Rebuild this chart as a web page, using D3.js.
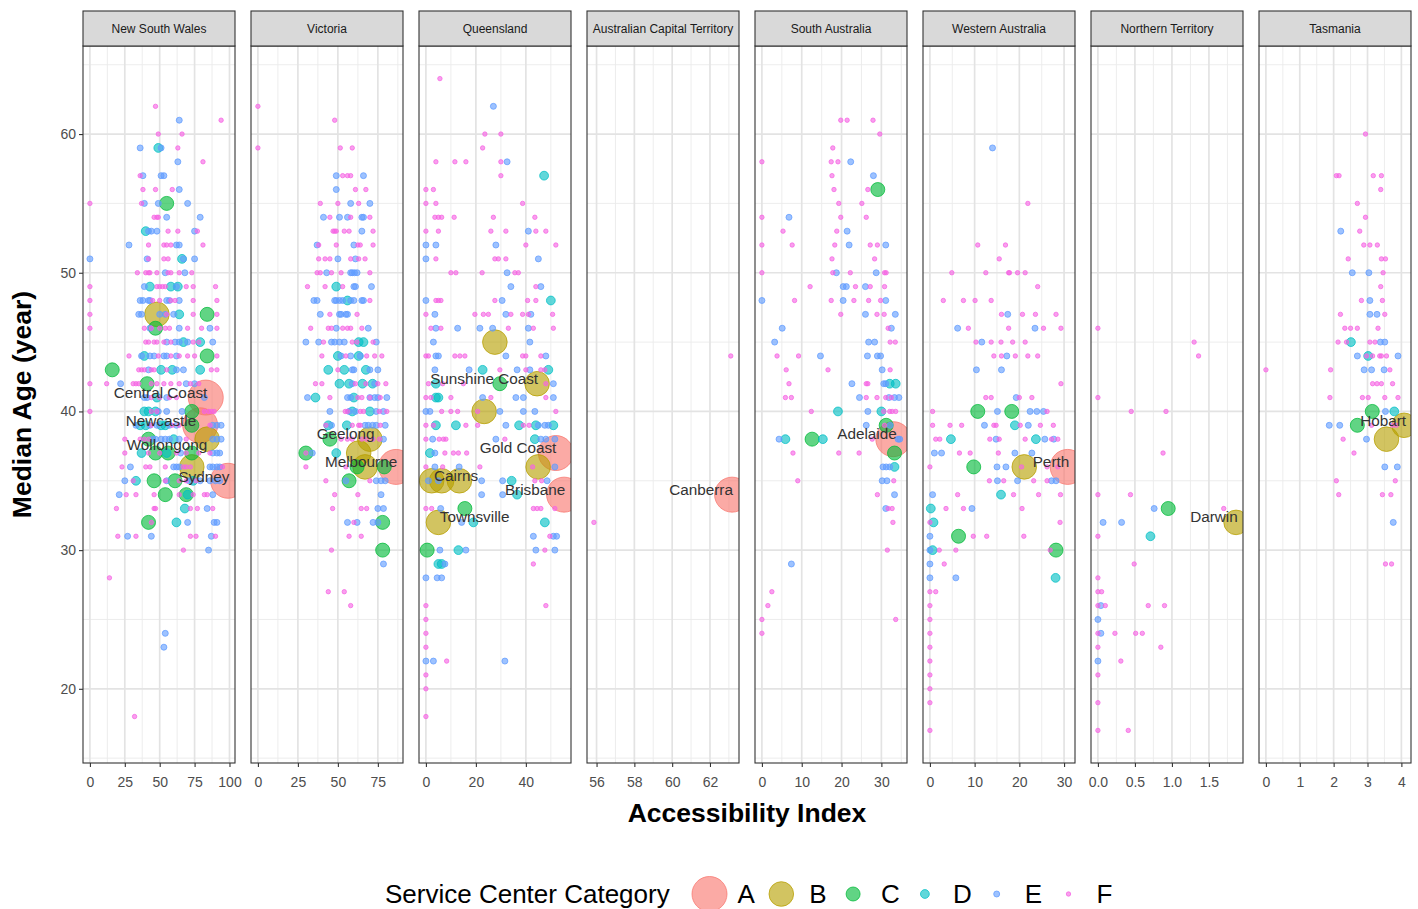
<!DOCTYPE html>
<html><head><meta charset="utf-8">
<script src="https://cdn.jsdelivr.net/npm/d3@7"></script>
<style>body{margin:0;background:#fff;} text{font-family:"Liberation Sans",Arial,Helvetica,sans-serif;}</style>
</head><body><svg id="chart" width="1418" height="909"></svg>
<script>
// ---------- facets, scales, ticks ----------
const states = ["New South Wales","Victoria","Queensland","Australian Capital Territory","South Australia","Western Australia","Northern Territory","Tasmania"];
const xRanges = [[0,99],[0,86.4],[0,55.3],[55.86,63.17],[0,34.7],[0,30.9],[0,1.867],[0,4.08]];
const xTicks = [[0,25,50,75,100],[0,25,50,75],[0,20,40],[56,58,60,62],[0,10,20,30],[0,10,20,30],[0,0.5,1,1.5],[0,1,2,3,4]];
const xTickFormats = ["d","d","d","d","d","d",".1f","d"];
const yRange = [17,64];
const yTicks = [20,30,40,50,60];
const categories = ["A","B","C","D","E","F"];
const catColors = ["#F8766D","#B79F00","#00BA38","#00BFC4","#619CFF","#F564E3"];

// ---------- data: rows are [median age, accessibility index values...] ----------
const nswA = [[41,83],[39,79],[35,99]];
const nswB = [[47,48],[38,84],[36,73]];
const nswC = [[55,55],[47,84],[46,47],[44,84],[43,16],[42,41],[40,73],[39,73],[38,42],[37,47,56,73],[35,46,61],[34,54,69],[32,42]];
const nswD = [[59,49],[53,40],[51,66],[49,43,58,63],[47,64],[45,67,79],[44,39],[43,51,59,79],[41,48],[40,39,42,47],[39,36,40,51,54],[38,60],[37,37,55],[35,33,74],[34,70],[33,68],[32,62]];
const nswE = [[61,64],[59,36,51],[58,63],[57,38,51,53],[56,64],[55,39,49,70],[54,55,79],[53,42,44,48,75],[52,28,62,64],[51,0,41,67,75],[50,54,68],[49,39,62],[48,36,38,42,43,55,57,64],[47,35,37,50,54,60],[46,43,64,86],[45,55,61,64,70,88],[44,37,43,46,53,55,62],[43,42,62,67],[42,22,69,75],[41,39,41,55,82],[40,49,55,66],[39,33,43,48,57,62,88,91,94],[38,45,47,51,54,57,64,88,91,94],[37,65,88,91,93],[36,29,60,62,64,86,88,91,93],[35,25,55,71,79,86,90,93],[34,21,88],[33,84],[32,70,89,91],[31,27,44,87],[30,85],[24,54],[23,53]];
const nswF = [[62,47],[61,94],[60,49,66],[59,63],[58,81],[57,36],[56,38,47,59],[55,0,37],[54,46,48,49],[53,56,63,77],[52,42,53,55,58,81],[51,42,53,56],[50,34,40,42,43,48,56,58,64,73],[49,0,48,50,52,54,69,74,90],[48,0,45,50,58,61,74,91],[47,0,55,74,91],[46,0,39,44,50,54,57,70,80,91],[45,40,42,46,48,53,58,74,78],[44,28,49,58,64,70,75,91],[43,35,37,39,44,46,55,87,91],[42,0,12,31,33,35,44,48,53,58,64,72,78],[41,44,50,57,62],[40,0,44,48,82,85,87,89],[39,44,59,64,86],[38,25,36,39,42,69],[37,25,42,50,62,69,78,86],[36,23,40,43,54,67,69,72,95],[35,31,54,64,69,76],[34,26,33,46,64,74,82,84],[33,19,46,47,72,77,88],[32,44],[31,20,33,72,76,90],[30,67],[28,14],[18,32]];

const vicA = [[36,86.4]];
const vicB = [[38,70],[37,63],[36,67]];
const vicC = [[38,45],[37,30],[36,62,79],[35,57],[32,78],[30,78]];
const vicD = [[49,49],[48,56],[45,63,66],[44,50,63],[43,44,54,67.5],[42,51,57,65.4,71.7],[41,36,60],[40,59,70],[39,44,55.6],[37,49]];
const vicE = [[57,49,66],[56,49],[55,58,70],[54,41,51,56,65,66],[53,65],[52,37,60],[51,50,61],[50,43,58,59,60.4,62],[49,60,61,71],[48,35,37,48,49,51,53,58,60,65,66],[47,39,51,52,55,56],[46,49,69],[45,30,38,46,48,51,54,74],[44,52,58,64],[43,59,60,70,75],[42,59,73],[41,31,56,58,70,73,75,80.6],[40,45,57,61,74,78.5],[39,46,67,69,71.7,74,79.6],[38,78.5],[37,34],[35,55,74,77,79.6],[34,77],[33,75,78.5],[32,56,62,72,75],[29,78.5]];
const vicF = [[62,0],[61,48],[59,0,51.5,59],[57,53,56,58],[56,61,67.5],[55,39,50,63],[54,45,58,70],[53,47,48,49,54,57,72],[52,38,49,62.5,64,72],[51,38,42,45,58,63,67],[50,37,39,46,52,70],[49,31,42,53],[48,70],[47,45,62],[46,33,44,46,53,56,58,65],[45,41,59,62,72],[44,40,55,68,73,77.5],[43,50],[42,36,40,61,67.5,75,80],[41,45,62.5,65,70,76.5],[40,54.6,56,64,66,76,80.6],[39,42.5,59,63,64,76.5],[38,52,56,59,65,68,72,76],[37,30],[36,30,55],[35,42.5,70],[34,48,62.5],[33,46.7,64.6,68],[32,60],[31,57,64.6],[30,46],[27,44,54],[26,58]];

const qldA = [[37,52],[34,55.3]];
const qldB = [[45,27.6],[42,44.5],[40,23.3],[36,44.9],[35,2.3,6.3,13.4],[32,5]];
const qldC = [[42,29.6],[33,15.6],[30,0.5]];
const qldD = [[57,47.3],[48,50],[43,22.7,49],[42,4],[41,4,5],[39,4,12,37.3,44,51],[38,43.6],[37,1.6],[35,34.3],[34,36.5],[32,19,47.6],[30,13],[29,5,6.3]];
const qldE = [[62,27],[58,32.5],[53,41],[52,0,4,28],[51,0,45],[50,32.5],[49,34,46],[48,0,30.5],[47,3.6,32,42],[46,4,12.7,21.6,26.7,41],[45,3,41.6],[44,4,5,32,48],[43,3.6,17.3,36.5,41.6],[42,51],[41,22.7,36,39,51],[40,0,1.6,29.6,39,43.6],[39,32,45,47.6,49],[38,2.7,28,46,48,51.6],[37,3.6],[36,3.6,13.3,51.6],[35,1,5,22.3,30.7,48.5],[34,22.3,30.7],[33,5.9],[32,14.3],[31,43,51,52.3],[30,5.6,16,44,51.6],[29,7.6],[28,0,4.5,6.3],[22,0,3,31.6]];
const qldF = [[64,5.6],[60,23.6,30],[59,22.7],[58,4,11.6,16,30],[57,30],[56,0,3],[55,0,4,38.7],[54,3.6,5,6.3,11.3,27,43.6],[53,0,5,26,32,44,48],[52,40,52],[51,4,27.6,29,32],[50,10,12,22.5,35.6,37],[49,44],[48,4,5,6,27.6,40.7,44],[47,0,19.6,23,25,34,38.7,41,50.7],[46,2,6,33,43,51],[44,0,1,11.6,13.6,15.6,38.7,40,46],[43,29.6,40,46,47.6],[42,1,6.7,15,48],[41,0,2,10,26,48],[40,6.3,10,12.7,20.7,52],[39,0,3,16,20.7,39,41.3],[38,0,5.3,7,8,31.6],[37,7.6,11,13,16.3],[36,0,6.7,21.6,42.7],[35,43.6,46.3],[33,0,2.3,43,44.5,46,51.6],[31,49.6],[30,47.6],[29,43],[26,0,48],[25,0],[24,0],[23,0],[22,8.3],[21,0],[20,0],[18,0]];

const actA = [[34,63.17]];
const actF = [[44,63.1],[32,55.86]];

const saA = [[38,33]];
const saC = [[56,29.1],[39,31.2],[38,12.6],[37,33.3]];
const saD = [[42,32.1,33.6],[40,19.1,30],[38,5.9,15.3],[36,33.3]];
const saE = [[58,22.3],[57,28],[54,6.8],[53,21.4],[52,21.9,31.1],[50,18.7,28.7],[49,20.4,21.2,26],[48,0,20.4,31.1],[47,26,33.5],[46,5.1,32.5],[45,3.2,26.8,28.3],[44,14.7,26.5,29,29.8],[43,30.2],[42,22.6,30.6,31.1],[41,24.5,31.9,33.3,34.4],[40,26.6],[39,26.2,32.2],[38,4.3,34.2,34.6],[36,30.4,31.2,32.1],[35,30.2,31.4],[34,33.3],[33,31.1],[29,7.4]];
const saF = [[61,19.8,21.4,27.9],[60,29.6],[59,17.8],[58,0,17.4,19.1],[57,17.6],[56,18.1,26.6],[55,19.3,25.1],[54,0,19.8,26.2],[53,5.3,18.8],[52,0,7.6,18.3,27.2,29],[51,17.6,28.3],[50,0,17.8,22.2,30.8,31.2],[49,12.1,23.5,27.2,30.8],[48,8.2,17.4,23.1,26.8,29.8],[47,19.8,28.9,30.7],[46,31.7],[45,32.2,33.5],[44,3.8,9.2],[43,6.1,16.6,32.2],[42,6.8,26.2,26.6],[41,5.9,7.4,26.2,28.9,31.1,32.5],[40,12.4,30.6,32.1,32.7,33.6],[39,30.8],[38,27.7],[37,7.8,19.3,24.4],[35,9,33.1],[34,29],[33,31.7,32.7],[32,32.9],[30,31.5],[27,2.5],[26,1.5],[25,0,33.6],[24,0]];

const waA = [[36,30.8]];
const waB = [[36,21.1]];
const waC = [[40,10.7,18.3],[36,9.8],[31,6.4],[30,28.2]];
const waD = [[39,19],[38,4.7,23.7],[34,15.9],[33,0.2],[32,0.8],[30,0.6],[28,28.1]];
const waE = [[59,14],[47,17.4],[46,6.2,23.5],[45,11.6],[44,17.2],[43,10.4,16],[41,19.3],[40,15.1,22.4,23.9,25.4],[39,12.2,22],[38,14.8,25.7,27.7],[37,1,2.6,19,22.8],[36,15,17],[35,15.1,19.6,27.2,28.2],[34,0.6],[33,9.4],[31,0],[30,0],[29,0],[28,0,5.8]];
const waF = [[55,21.9],[52,10.7,16.9],[51,15.5],[50,4.9,12.5,17.6,17.8,19.6,21.3],[49,24.1],[48,3,7.5,10.1,13.7],[47,16,20.7,23.6,28.2],[46,8.6,17.6,25.4,29.3],[45,10.3,13.7,15.9,18.5,21.3],[44,14.3,16,19.1,21.9,24.1],[42,29.3],[41,12.5,13.7,20,22.8],[40,0.6,26.2],[39,0.6,4.5,7.1,14.3,14.8,20.2,24.7,27.6],[38,1.3,2.2,13.4,15.5,21.3,27.2,28.6],[37,6.6,9,15.3],[36,0,20.5,26.2,28.6],[35,13.3,16.5,23.2,26.2],[34,6.2,18.7,24.3,29.2],[33,3.6,7.5,20.6],[32,0,29.1],[31,9.7,12.7,21],[30,2.1,5.8,26.9],[29,3.2],[27,0,1.3],[26,0],[25,0],[24,0],[23,0],[22,0],[21,0],[20,0],[19,0],[17,0]];

const ntB = [[32,1.867]];
const ntC = [[33,0.95]];
const ntD = [[31,0.71]];
const ntE = [[33,0.76],[32,0.07,0.32],[26,0.04],[25,0],[24,0.04],[22,0]];
const ntF = [[46,0],[45,1.3],[44,1.36],[41,0],[40,0.45,0.92],[37,0.88],[34,0,0.44],[33,1.7],[31,0],[29,0.49],[28,0],[27,0,0.05],[26,0,0.1,0.68,0.9],[24,0,0.23,0.51,0.6],[23,0,0.85],[22,0.31],[21,0],[19,0],[17,0,0.41]];

const tasB = [[39,4.08],[38,3.56]];
const tasC = [[40,3.14],[39,2.7]];
const tasD = [[45,2.51],[44,3.02],[40,3.79]];
const tasE = [[53,2.21],[50,2.55,3.04],[48,3.07],[47,3.07,3.28],[45,3.38,3.51],[44,2.7,3.9],[43,2.9,3.12,3.49],[40,3.53],[39,1.87,2.18],[38,2.97],[36,3.51,3.88],[32,3.76]];
const tasF = [[60,2.94],[57,2.08,2.16,3.17,3.41],[56,3.39],[55,2.7],[54,2.94],[53,2.77],[52,2.89,3.07,3.29],[51,2.43,3.41,3.53],[50,3.46],[49,3.39],[48,2.82,3.44],[47,2.2,3.51],[46,2.33,2.5,2.7,3.31],[45,2.13,2.38,3.07,3.22],[44,2.97,3.15,3.36,3.41,3.56],[43,0,1.91,3.66],[42,3.15,3.28,3.41,3.74],[41,1.89,2.85,3.02,3.51,3.9],[39,3.12,3.74,3.85],[38,2.28],[37,2.6],[35,2.08,3.82],[34,2.15,3.44,3.69],[29,3.53,3.71]];

// city labels (facet index, label centre in data units)
const cityNames = ["Central Coast","Newcastle","Wollongong","Sydney","Geelong","Melbourne","Sunshine Coast","Gold Coast","Cairns","Brisbane","Townsville","Canberra","Adelaide","Perth","Darwin","Hobart"];
const cityFacet = [0,0,0,0,1,1,2,2,2,2,2,3,4,5,6,7];
const cityX = [50.6,50.9,55.2,81.7,54.8,64.5,23.3,36.9,12.1,43.7,19.5,61.53,26.4,27.07,1.568,3.46];
const cityY = [41.37,39.35,37.62,35.32,38.41,36.4,42.38,37.4,35.39,34.38,32.43,34.38,38.41,36.4,32.43,39.35];

const facetData = [
  [nswA,nswB,nswC,nswD,nswE,nswF],
  [vicA,vicB,vicC,vicD,vicE,vicF],
  [qldA,qldB,qldC,qldD,qldE,qldF],
  [actA,[],[],[],[],actF],
  [saA,[],saC,saD,saE,saF],
  [waA,waB,waC,waD,waE,waF],
  [[],ntB,ntC,ntD,ntE,ntF],
  [[],tasB,tasC,tasD,tasE,tasF]
];

// ---------- layout ----------
const W = 1418, H = 909;
const panelLeft0 = 83, panelW = 152, panelGap = 16, panelTop = 46, panelBottom = 763, stripTop = 11;
const sizeRadius = [17.5, 12.3, 7, 4.4, 3.0, 2.2];

const svg = d3.select("#chart");
const defs = svg.append("defs");
svg.append("rect").attr("width",W).attr("height",H).attr("fill","#fff");

function pad([a,b]){ const e=(b-a)*0.05; return [a-e,b+e]; }
function minors(ticks, dom){
  const step = ticks.length>1 ? ticks[1]-ticks[0] : 1, out=[];
  for(let k=-1;k<ticks.length+1;k++){ const v = ticks[0]+(k+0.5)*step; if(v>=dom[0] && v<=dom[1]) out.push(v); }
  return out;
}
function expand(rows){ const p=[]; rows.forEach(r=>{ for(let k=1;k<r.length;k++) p.push([r[k],r[0]]); }); return p; }

const yDom = pad(yRange);
const y = d3.scaleLinear().domain(yDom).range([panelBottom, panelTop]);
const yMinor = minors(yTicks, yDom);
const color = d3.scaleOrdinal(categories, catColors);
const radius = d3.scaleOrdinal(categories, sizeRadius);
const fillOp = 0.62, strokeOp = 0.75;

states.forEach((name, i) => {
  const x0 = panelLeft0 + i*(panelW+panelGap);
  const xDom = pad(xRanges[i]);
  const x = d3.scaleLinear().domain(xDom).range([x0, x0+panelW]);
  const g = svg.append("g");

  defs.append("clipPath").attr("id","clip"+i).append("rect")
    .attr("x",x0).attr("y",panelTop).attr("width",panelW).attr("height",panelBottom-panelTop);

  const grid = g.append("g");
  grid.selectAll(".ymin").data(yMinor).join("line")
    .attr("x1",x0).attr("x2",x0+panelW).attr("y1",d=>y(d)).attr("y2",d=>y(d))
    .attr("stroke","#EBEBEB").attr("stroke-width",0.9);
  grid.selectAll(".xmin").data(minors(xTicks[i], xDom)).join("line")
    .attr("y1",panelTop).attr("y2",panelBottom).attr("x1",d=>x(d)).attr("x2",d=>x(d))
    .attr("stroke","#EBEBEB").attr("stroke-width",0.9);
  grid.selectAll(".ymaj").data(yTicks).join("line")
    .attr("x1",x0).attr("x2",x0+panelW).attr("y1",d=>y(d)).attr("y2",d=>y(d))
    .attr("stroke","#E3E3E3").attr("stroke-width",1.7);
  grid.selectAll(".xmaj").data(xTicks[i].filter(v=>v>=xDom[0]&&v<=xDom[1])).join("line")
    .attr("y1",panelTop).attr("y2",panelBottom).attr("x1",d=>x(d)).attr("x2",d=>x(d))
    .attr("stroke","#E3E3E3").attr("stroke-width",1.7);

  const pts = g.append("g").attr("clip-path","url(#clip"+i+")");
  categories.forEach((c, ci) => {
    const data = expand(facetData[i][ci]);
    pts.append("g").selectAll("circle").data(data).join("circle")
      .attr("cx",d=>x(d[0])).attr("cy",d=>y(d[1])).attr("r",radius(c))
      .attr("fill",color(c)).attr("fill-opacity",fillOp)
      .attr("stroke",color(c)).attr("stroke-opacity",strokeOp).attr("stroke-width",1);
  });

  const labs = cityNames.map((n,k)=>({n, f:cityFacet[k], x:cityX[k], y:cityY[k]})).filter(d=>d.f===i);
  pts.append("g").selectAll("text").data(labs).join("text")
    .attr("x",d=>x(d.x)).attr("y",d=>y(d.y)).attr("text-anchor","middle").attr("dominant-baseline","central")
    .attr("font-size",15.3).attr("fill","#333").text(d=>d.n);

  g.append("rect").attr("x",x0).attr("y",panelTop).attr("width",panelW).attr("height",panelBottom-panelTop)
    .attr("fill","none").attr("stroke","#333").attr("stroke-width",1.1);
  g.append("rect").attr("x",x0).attr("y",stripTop).attr("width",panelW).attr("height",panelTop-stripTop)
    .attr("fill","#D9D9D9").attr("stroke","#333").attr("stroke-width",1.1);
  g.append("text").attr("x",x0+panelW/2).attr("y",(stripTop+panelTop)/2).attr("text-anchor","middle")
    .attr("dominant-baseline","central").attr("font-size",12).attr("fill","#1A1A1A").text(name);

  const xa = g.append("g").attr("transform",`translate(0,${panelBottom})`)
    .call(d3.axisBottom(x).tickValues(xTicks[i]).tickFormat(d3.format(xTickFormats[i])).tickSize(4).tickPadding(10));
  xa.select(".domain").remove();
  xa.selectAll(".tick line").attr("stroke","#333").attr("stroke-width",1.1);
  xa.selectAll(".tick text").attr("fill","#4D4D4D").attr("font-size",14).attr("font-family","Liberation Sans, Arial, sans-serif");

  if(i===0){
    const ya = g.append("g").attr("transform",`translate(${x0},0)`)
      .call(d3.axisLeft(y).tickValues(yTicks).tickSize(4).tickPadding(3));
    ya.select(".domain").remove();
    ya.selectAll(".tick line").attr("stroke","#333").attr("stroke-width",1.1);
    ya.selectAll(".tick text").attr("fill","#4D4D4D").attr("font-size",14).attr("font-family","Liberation Sans, Arial, sans-serif");
  }
});

// axis titles
svg.append("text").attr("x",(panelLeft0 + 7*(panelW+panelGap) + panelW + panelLeft0)/2).attr("y",822)
  .attr("text-anchor","middle").attr("font-size",26.5).attr("font-weight","bold").attr("fill","#000").text("Accessibility Index");
svg.append("text").attr("transform",`translate(31,${(panelTop+panelBottom)/2}) rotate(-90)`)
  .attr("text-anchor","middle").attr("font-size",26.5).attr("font-weight","bold").attr("fill","#000").text("Median Age (year)");

// legend (kept just inside the bottom edge)
const leg = svg.append("g");
const legBase = 902.5;
leg.append("text").attr("x",385).attr("y",legBase).attr("font-size",26).attr("fill","#000").text("Service Center Category");
const legX = d3.scalePoint().domain(categories).range([709.5, 1068.5]);
const legCy = 894;
leg.selectAll("circle").data(categories).join("circle")
  .attr("cx",d=>legX(d)).attr("cy",legCy).attr("r",d=>radius(d))
  .attr("fill",d=>color(d)).attr("fill-opacity",fillOp).attr("stroke",d=>color(d)).attr("stroke-opacity",strokeOp).attr("stroke-width",1);
leg.selectAll(".lt").data(categories).join("text")
  .attr("x",d=>legX(d)+28).attr("y",legBase).attr("font-size",26).attr("fill","#000").text(d=>d);
</script></body></html>
